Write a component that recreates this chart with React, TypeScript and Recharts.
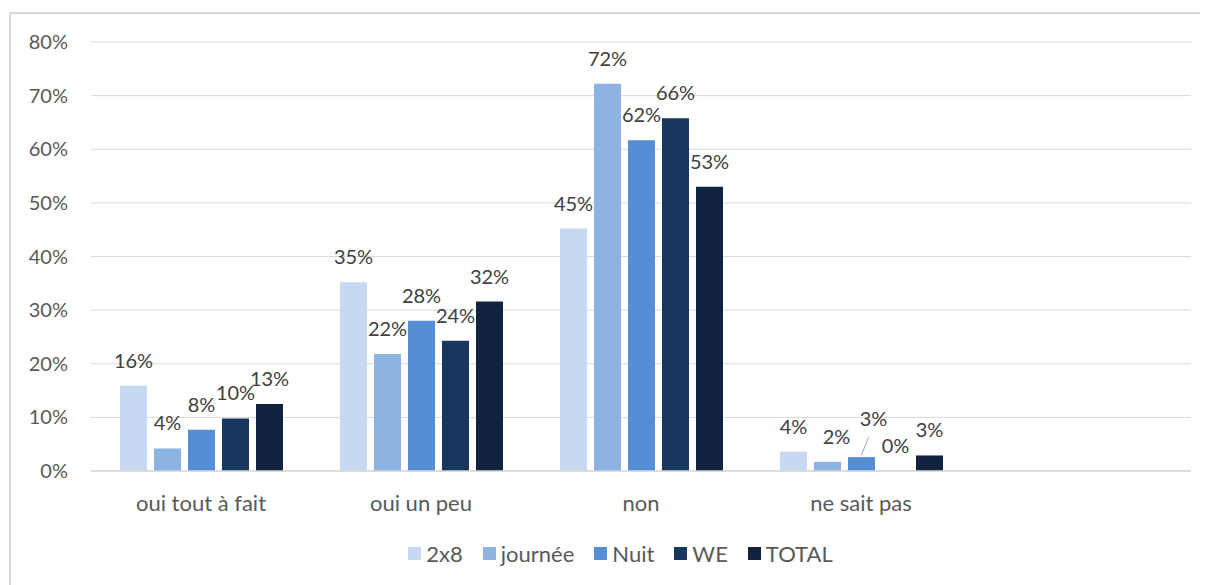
import React from 'react';
import {
  BarChart,
  Bar,
  XAxis,
  YAxis,
  CartesianGrid,
  Legend,
  LabelList
} from 'recharts';

const categories = ['oui tout à fait', 'oui un peu', 'non', 'ne sait pas', ''];
const deuxHuit = [15.9, 35.2, 45.2, 3.6, null];
const journee = [4.2, 21.8, 72.2, 1.7, null];
const nuit = [7.7, 28.0, 61.7, 2.6, null];
const weekEnd = [9.8, 24.3, 65.8, 0, null];
const total = [12.5, 31.6, 53.0, 2.9, null];
const yTicks = [0, 10, 20, 30, 40, 50, 60, 70, 80];

const seriesDefs = [
  { key: 'deuxHuit', name: '2x8', values: deuxHuit, color: '#c6d9f1' },
  { key: 'journee', name: 'journée', values: journee, color: '#8db3e2' },
  { key: 'nuit', name: 'Nuit', values: nuit, color: '#558ed5' },
  { key: 'we', name: 'WE', values: weekEnd, color: '#17375e' },
  { key: 'total', name: 'TOTAL', values: total, color: '#10243f' }
];

const data = categories.map((name, i) => {
  const row: Record<string, string | number | null> = { name };
  seriesDefs.forEach((s) => {
    row[s.key] = s.values[i];
  });
  return row;
});

// hand-moved labels in the ne sait pas group
const labelNudges: Record<string, { dx: number; dy: number; leader?: boolean }> = {
  'journee-3': { dx: 9, dy: 0 },
  'nuit-3': { dx: 12, dy: -13, leader: true }
};

const FONT = 'Lato, "Open Sans", sans-serif';
const TEXT = '#595959';

function makeLabel(seriesKey: string) {
  return (props: any) => {
    const { x, y, width, value, index } = props;
    if (value === null || value === undefined) return null;
    const nudge = labelNudges[`${seriesKey}-${index}`] || { dx: 0, dy: 0 };
    const cx = Number(x) + Number(width) / 2;
    const top = Number(y);
    return (
      <g key={`lbl-${seriesKey}-${index}`}>
        {nudge.leader && (
          <line x1={cx} y1={top - 2} x2={cx + 7} y2={top - 20} stroke="#a6a6a6" strokeWidth={1} />
        )}
        <text
          x={cx + nudge.dx}
          y={top - 18 + nudge.dy}
          textAnchor="middle"
          fill="#404040"
          fontSize={20}
          fontFamily={FONT}
        >
          {`${Math.round(Number(value))}%`}
        </text>
      </g>
    );
  };
}

function LegendContent() {
  return (
    <div
      style={{
        display: 'flex',
        justifyContent: 'center',
        alignItems: 'center',
        paddingLeft: 62,
        height: 32,
        fontFamily: FONT,
        fontSize: 22,
        color: TEXT
      }}
    >
      {seriesDefs.map((s) => (
        <div key={s.key} style={{ display: 'flex', alignItems: 'center', marginRight: 20 }}>
          <span style={{ width: 13, height: 13, background: s.color, marginRight: 5, display: 'inline-block' }} />
          <span>{s.name}</span>
        </div>
      ))}
    </div>
  );
}

export default function App() {
  return (
    <div style={{ position: 'relative', width: 1200, height: 577, overflow: 'hidden', background: '#fff' }}>
      <div
        style={{
          position: 'absolute',
          left: 1,
          top: 4,
          width: 1199,
          height: 573,
          borderLeft: '2px solid #d9d9d9',
          borderTop: '2px solid #d9d9d9',
          boxSizing: 'border-box'
        }}
      />
      <div style={{ position: 'absolute', left: 0, top: 0 }}>
        <BarChart
          width={1200}
          height={577}
          data={data}
          margin={{ top: 34, right: 17, left: 0, bottom: 16 }}
          barSize={27}
          barGap={7}
        >
          <CartesianGrid vertical={false} stroke="#d9d9d9" strokeWidth={1} />
          <XAxis
            dataKey="name"
            interval={0}
            height={66}
            tickLine={false}
            tickSize={0}
            tickMargin={24}
            axisLine={{ stroke: '#d9d9d9', strokeWidth: 1.5 }}
            tick={{ fill: TEXT, fontSize: 22, fontFamily: FONT }}
          />
          <YAxis
            width={83}
            domain={[0, 80]}
            ticks={yTicks}
            tickFormatter={(v) => `${v}%`}
            axisLine={false}
            tickLine={false}
            tickSize={0}
            tickMargin={23}
            tick={{ fill: TEXT, fontSize: 20, fontFamily: FONT }}
          />
          <Legend verticalAlign="bottom" height={32} content={<LegendContent />} />
          {seriesDefs.map((s) => (
            <Bar
              key={s.key}
              dataKey={s.key}
              name={s.name}
              fill={s.color}
              minPointSize={0.01}
              isAnimationActive={false}
            >
              <LabelList dataKey={s.key} content={makeLabel(s.key)} />
            </Bar>
          ))}
        </BarChart>
      </div>
    </div>
  );
}
